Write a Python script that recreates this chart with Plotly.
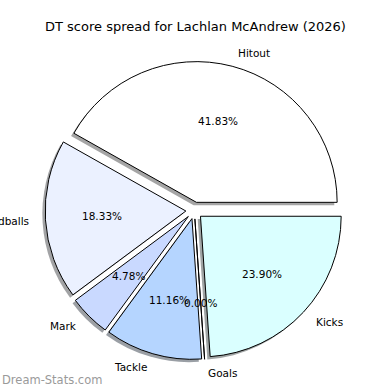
import math
import plotly.graph_objects as go

# ---- data ----
categories = ["Hitout", "Handballs", "Mark", "Tackle", "Goals", "Kicks"]
shares = [41.83, 18.33, 4.78, 11.16, 0.00, 23.90]
slice_colors = ["#ffffff", "#ebf1ff", "#c9d9ff", "#b5d5ff", "#a8c8ff", "#daffff"]
title_text = "DT score spread for Lachlan McAndrew (2026)"
watermark = "Dream-Stats.com"

# ---- layout helpers ----
W = H = 390
pull = 0.06
cx, cy = 194.3, 210.5          # pie centre (px, from top)
r = 140.7                      # pie radius (px)
half = r * (1 + pull)
shadow_off = 0.02 * r
total = sum(shares)
# first slice starts at 3 o'clock and runs counter-clockwise
rot = 90 - 360 * shares[0] / total
FONT = "DejaVu Sans"


def dom(x0, y0):
    return dict(x=[(x0 - half) / W, (x0 + half) / W],
                y=[(H - y0 - half) / H, (H - y0 + half) / H])


def shade(hexcol):
    h = hexcol.lstrip("#")
    rr, gg, bb = (int(h[i:i + 2], 16) for i in (0, 2, 4))
    return f"rgba({int(rr*0.3)},{int(gg*0.3)},{int(bb*0.3)},0.5)"


common = dict(labels=categories, values=shares, sort=False,
              direction="counterclockwise", rotation=rot,
              pull=[pull] * len(categories), hoverinfo="skip",
              showlegend=False, automargin=False, textinfo="none")

fig = go.Figure()
# shadow
fig.add_trace(go.Pie(**common, domain=dom(cx - shadow_off, cy + shadow_off),
                     marker=dict(colors=[shade(c) for c in slice_colors],
                                 line=dict(width=0))))
# main slices
fig.add_trace(go.Pie(**common, domain=dom(cx, cy),
                     marker=dict(colors=slice_colors,
                                 line=dict(color="black", width=1))))

annotations = [
    dict(text=title_text, x=0.5, y=1 - 27 / H, xref="paper", yref="paper",
         xanchor="center", yanchor="middle", showarrow=False,
         font=dict(family=FONT, size=13, color="black")),
    dict(text=watermark, x=0.2 / W, y=1 - 380 / H, xref="paper", yref="paper",
         xanchor="left", yanchor="middle", showarrow=False,
         font=dict(family=FONT, size=11.5, color="#9a9a9a")),
]

# percentage (0.6 r) and category (1.1 r) labels on each slice's mid angle,
# measured from the slice's pulled-out centre
cum = 0.0
for lab, v in zip(categories, shares):
    mid = math.radians(360 * (cum + v / 2) / total)
    ux, uy = math.cos(mid), -math.sin(mid)
    for frac, txt, anchor in ((0.6, f"{v / total:.2%}", "center"),
                              (1.1, lab, "left" if ux > 0 else "right")):
        dist = r * (pull + frac)
        annotations.append(dict(
            text=txt, x=(cx + dist * ux) / W, y=1 - (cy + dist * uy) / H,
            xref="paper", yref="paper", xanchor=anchor, yanchor="middle",
            showarrow=False, font=dict(family=FONT, size=10.5, color="black")))
    cum += v

fig.update_layout(
    width=W, height=H, margin=dict(l=0, r=0, t=0, b=0, autoexpand=False),
    paper_bgcolor="white", plot_bgcolor="white",
    annotations=annotations,
)

fig.write_html("out.html", config={"displayModeBar": False, "staticPlot": True},
               post_script="document.body.style.margin='0';")
